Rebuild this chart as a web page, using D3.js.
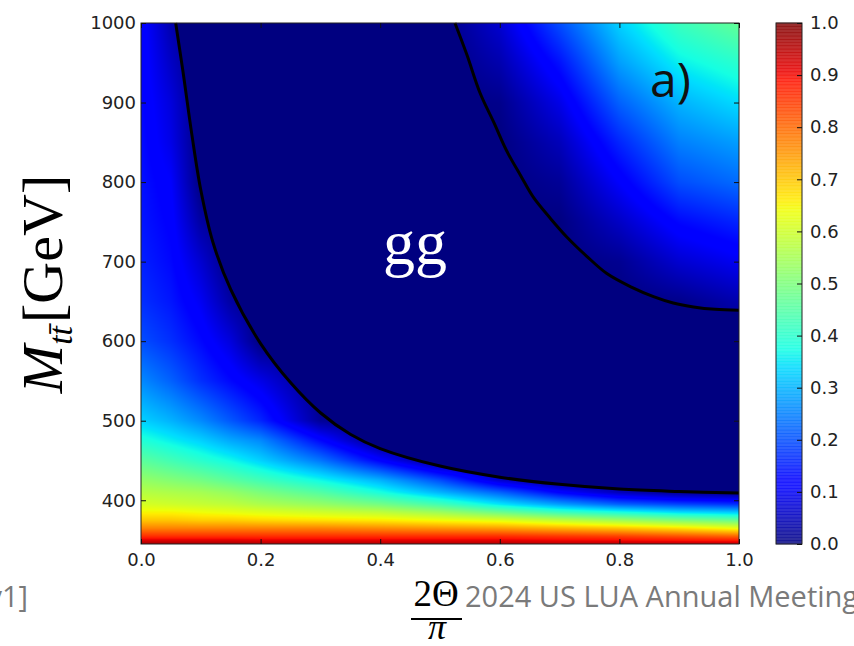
<!DOCTYPE html>
<html>
<head>
<meta charset="utf-8">
<script src="https://cdn.jsdelivr.net/npm/d3@7"></script>
<style>
  body { margin: 0; background: #fff; }
  svg { display: block; }
</style>
</head>
<body>
<svg id="chart" width="854" height="646"></svg>
<script>
// grid of the heat map
var thetaCols = [0, 0.05, 0.1, 0.15, 0.2, 0.3, 0.4, 0.5, 0.6, 0.7, 0.8, 0.9, 1.0];
var massRows = [345, 355, 365, 375, 385, 395, 410, 425, 450, 475, 500, 550, 600, 650, 700, 750, 800, 850, 900, 950, 1000];
var concurrence = [
  [0.97, 0.97, 0.97, 0.97, 0.96, 0.96, 0.96, 0.96, 0.96, 0.95, 0.95, 0.95, 0.95],
  [0.86, 0.86, 0.86, 0.86, 0.86, 0.86, 0.86, 0.86, 0.86, 0.85, 0.84, 0.82, 0.80],
  [0.77, 0.77, 0.77, 0.77, 0.77, 0.77, 0.76, 0.75, 0.74, 0.72, 0.70, 0.67, 0.63],
  [0.70, 0.70, 0.69, 0.69, 0.68, 0.67, 0.66, 0.64, 0.62, 0.58, 0.54, 0.50, 0.47],
  [0.65, 0.65, 0.64, 0.63, 0.62, 0.60, 0.58, 0.54, 0.48, 0.42, 0.38, 0.34, 0.32],
  [0.61, 0.60, 0.59, 0.58, 0.56, 0.53, 0.49, 0.43, 0.35, 0.28, 0.22, 0.19, 0.17],
  [0.57, 0.56, 0.55, 0.53, 0.50, 0.45, 0.38, 0.30, 0.22, 0.12, 0.05, 0.01, 0.00],
  [0.53, 0.51, 0.49, 0.46, 0.43, 0.37, 0.30, 0.20, 0.07, 0, 0, 0, 0],
  [0.46, 0.43, 0.40, 0.37, 0.33, 0.24, 0.12, 0, 0, 0, 0, 0, 0],
  [0.39, 0.36, 0.33, 0.29, 0.26, 0.13, 0, 0, 0, 0, 0, 0, 0],
  [0.33, 0.30, 0.26, 0.21, 0.16, 0.02, 0, 0, 0, 0, 0, 0, 0],
  [0.26, 0.22, 0.17, 0.13, 0.09, 0, 0, 0, 0, 0, 0, 0, 0],
  [0.20, 0.17, 0.13, 0.08, 0, 0, 0, 0, 0, 0, 0, 0, 0],
  [0.17, 0.145, 0.10, 0.03, 0, 0, 0, 0, 0, 0, 0, 0.01, 0.04],
  [0.155, 0.13, 0.07, 0, 0, 0, 0, 0, 0, 0, 0.015, 0.07, 0.10],
  [0.145, 0.12, 0.03, 0, 0, 0, 0, 0, 0, 0, 0.06, 0.13, 0.16],
  [0.14, 0.11, 0, 0, 0, 0, 0, 0, 0, 0.02, 0.11, 0.20, 0.23],
  [0.135, 0.09, 0, 0, 0, 0, 0, 0, 0, 0.05, 0.16, 0.25, 0.28],
  [0.13, 0.08, 0, 0, 0, 0, 0, 0, 0.01, 0.09, 0.22, 0.30, 0.34],
  [0.128, 0.06, 0, 0, 0, 0, 0, 0, 0.04, 0.14, 0.28, 0.36, 0.40],
  [0.125, 0.04, 0, 0, 0, 0, 0, 0, 0.07, 0.20, 0.33, 0.42, 0.47]
];

// zero contours (boundary of the navy region)
var lowerTheta = [0.058, 0.07, 0.085, 0.1, 0.12, 0.15, 0.2, 0.25, 0.3, 0.35, 0.4, 0.5, 0.6, 0.7, 0.8, 0.9, 1.0];
var lowerMass  = [1000, 940, 860, 790, 725, 665, 597, 548, 510, 483, 465, 443, 429, 420, 414, 411, 409];
var upperTheta = [0.525, 0.545, 0.567, 0.59, 0.611, 0.635, 0.656, 0.685, 0.712, 0.745, 0.779, 0.82, 0.857, 0.89, 0.924, 0.96, 1.0];
var upperMass  = [1000, 960, 912, 875, 840, 808, 781, 754, 731, 707, 685, 668, 656, 648, 643, 640, 639];

var xTicks = [0, 0.2, 0.4, 0.6, 0.8, 1.0];
var yTicks = [400, 500, 600, 700, 800, 900, 1000];
var cbTicks = [0, 0.1, 0.2, 0.3, 0.4, 0.5, 0.6, 0.7, 0.8, 0.9, 1.0];

var margin = {top: 23, left: 141},
    width = 598, height = 521;

var svg = d3.select("#chart");

var x = d3.scaleLinear().domain([0, 1]).range([0, width]);
var y = d3.scaleLinear().domain([345, 1000]).range([height, 0]);

// jet colormap
var jr = d3.scaleLinear().domain([0, 0.35, 0.66, 0.89, 1]).range([0, 0, 1, 1, 0.5]).clamp(true);
var jg = d3.scaleLinear().domain([0, 0.125, 0.375, 0.64, 0.91, 1]).range([0, 0, 1, 1, 0, 0]).clamp(true);
var jb = d3.scaleLinear().domain([0, 0.11, 0.34, 0.65, 1]).range([0.5, 1, 1, 0, 0]).clamp(true);
function jet(v){ return [jr(v) * 255, jg(v) * 255, jb(v) * 255]; }

function sample(tv, mv){
    var i = Math.max(0, Math.min(thetaCols.length - 2, d3.bisectRight(thetaCols, tv) - 1));
    var j = Math.max(0, Math.min(massRows.length - 2, d3.bisectRight(massRows, mv) - 1));
    var tx = Math.max(0, Math.min(1, (tv - thetaCols[i]) / (thetaCols[i+1] - thetaCols[i])));
    var ty = Math.max(0, Math.min(1, (mv - massRows[j]) / (massRows[j+1] - massRows[j])));
    var a = concurrence[j][i], b = concurrence[j][i+1],
        c = concurrence[j+1][i], d = concurrence[j+1][i+1];
    return (a * (1 - tx) + b * tx) * (1 - ty) + (c * (1 - tx) + d * tx) * ty;
}

// paint heat map to a canvas, then put it in the svg
var canvas = document.createElement("canvas");
canvas.width = width; canvas.height = height;
var ctx = canvas.getContext("2d");
var img = ctx.createImageData(width, height);
for (var py = 0; py < height; py++){
    var mv = y.invert(py + 0.5);
    for (var px = 0; px < width; px++){
        var col = jet(sample(x.invert(px + 0.5), mv));
        var k = (py * width + px) * 4;
        img.data[k] = col[0]; img.data[k+1] = col[1]; img.data[k+2] = col[2]; img.data[k+3] = 255;
    }
}
ctx.putImageData(img, 0, 0);

var g = svg.append("g").attr("transform", "translate(" + margin.left + "," + margin.top + ")");

g.append("image")
    .attr("width", width).attr("height", height)
    .attr("preserveAspectRatio", "none")
    .attr("href", canvas.toDataURL());

var lowerPts = lowerTheta.map(function(t, i){ return [t, lowerMass[i]]; });
var upperPts = upperTheta.map(function(t, i){ return [t, upperMass[i]]; });

var line = d3.line()
    .x(function(d){ return x(d[0]); })
    .y(function(d){ return y(d[1]); })
    .curve(d3.curveCatmullRom);

// navy zero region between the two contours
var zonePath = line(lowerPts) + line(upperPts.slice().reverse()).replace(/^M/, "L") + "Z";
g.append("path").attr("d", zonePath).attr("fill", "#000080");

g.append("path").attr("d", line(lowerPts)).attr("fill", "none").attr("stroke", "#000").attr("stroke-width", 3);
g.append("path").attr("d", line(upperPts)).attr("fill", "none").attr("stroke", "#000").attr("stroke-width", 3);

g.append("text")
    .attr("x", 274).attr("y", 241)
    .attr("text-anchor", "middle")
    .attr("font-family", "Liberation Serif, serif")
    .attr("font-size", 64)
    .attr("fill", "#fff")
    .text("gg");

g.append("text")
    .attr("x", 509).attr("y", 74)
    .attr("font-family", "Open Sans, sans-serif")
    .attr("font-size", 48)
    .attr("fill", "#111")
    .text("a)");

// frame
g.append("rect").attr("width", width).attr("height", height)
    .attr("fill", "none").attr("stroke", "#222").attr("stroke-width", 1);

function styleAxis(sel){
    sel.select(".domain").remove();
    sel.selectAll(".tick line").attr("stroke", "#111");
    sel.selectAll(".tick text")
        .attr("font-family", "DejaVu Sans, sans-serif")
        .attr("font-size", 18)
        .attr("fill", "#222");
}

var fmt = d3.format(".1f");
g.append("g").attr("transform", "translate(0," + height + ")")
    .call(d3.axisBottom(x).tickValues(xTicks).tickFormat(fmt).tickSizeInner(-5).tickSizeOuter(0).tickPadding(9))
    .call(styleAxis);
g.append("g")
    .call(d3.axisTop(x).tickValues(xTicks).tickSizeInner(-5).tickSizeOuter(0).tickFormat(""))
    .call(styleAxis);
g.append("g")
    .call(d3.axisLeft(y).tickValues(yTicks).tickFormat(d3.format("d")).tickSizeInner(-5).tickSizeOuter(0).tickPadding(5))
    .call(styleAxis);
g.append("g").attr("transform", "translate(" + width + ",0)")
    .call(d3.axisRight(y).tickValues(yTicks).tickSizeInner(-5).tickSizeOuter(0).tickFormat(""))
    .call(styleAxis);

// colour bar
var cbW = 26, cbH = height;
var cb = svg.append("g").attr("transform", "translate(776," + margin.top + ")");
var cy = d3.scaleLinear().domain([0, 1]).range([cbH, 0]);
var steps = d3.range(0, 1, 1 / 160);
cb.selectAll("rect.step").data(steps).enter().append("rect")
    .attr("class", "step")
    .attr("x", 0).attr("width", cbW)
    .attr("y", function(d){ return cy(d + 1 / 160) - 0.3; })
    .attr("height", cbH / 160 + 0.6)
    .attr("fill", function(d){ var c = jet(d + 0.5 / 160); return d3.rgb(c[0], c[1], c[2]); })
    .attr("fill-opacity", 0.82);
cb.append("rect").attr("width", cbW).attr("height", cbH)
    .attr("fill", "none").attr("stroke", "#222").attr("stroke-width", 1);
cb.append("g").attr("transform", "translate(" + cbW + ",0)")
    .call(d3.axisRight(cy).tickValues(cbTicks).tickFormat(fmt).tickSizeInner(-5).tickSizeOuter(0).tickPadding(8))
    .call(styleAxis);

// axis titles
var yl = svg.append("text")
    .attr("transform", "translate(62,284) rotate(-90)")
    .attr("text-anchor", "middle")
    .attr("font-family", "Liberation Serif, serif")
    .attr("font-size", 58)
    .attr("fill", "#000");
yl.append("tspan").attr("font-style", "italic").text("M");
yl.append("tspan").attr("font-style", "italic").attr("font-size", 34).attr("dy", 10).text("tt\u0304");
yl.append("tspan").attr("dy", -10).attr("dx", 3).text("[GeV]");

svg.append("text")
    .attr("x", 436).attr("y", 606)
    .attr("text-anchor", "middle")
    .attr("font-family", "Liberation Serif, serif")
    .attr("font-size", 37)
    .text("2\u0398");
svg.append("line")
    .attr("x1", 411).attr("x2", 462).attr("y1", 619).attr("y2", 619)
    .attr("stroke", "#000").attr("stroke-width", 2);
svg.append("text")
    .attr("x", 437).attr("y", 639)
    .attr("text-anchor", "middle")
    .attr("font-family", "Liberation Serif, serif")
    .attr("font-style", "italic")
    .attr("font-size", 36)
    .text("\u03c0");

// slide footer text
svg.append("text")
    .attr("x", 465).attr("y", 607)
    .attr("font-family", "Open Sans, sans-serif")
    .attr("font-size", 29)
    .attr("fill", "#7a7a7a")
    .text("2024 US LUA Annual Meeting");
svg.append("text")
    .attr("x", 28).attr("y", 607)
    .attr("text-anchor", "end")
    .attr("font-family", "Open Sans, sans-serif")
    .attr("font-size", 29)
    .attr("fill", "#7a7a7a")
    .text("v1]");
</script>
</body>
</html>
